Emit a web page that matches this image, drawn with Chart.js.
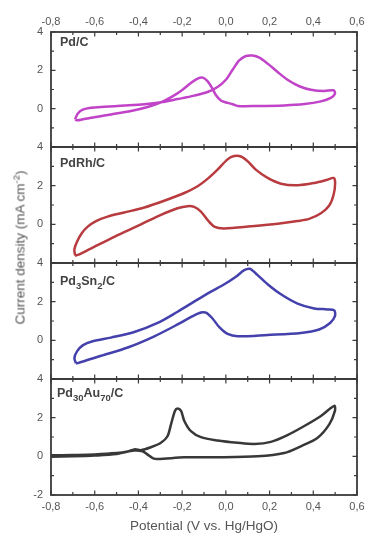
<!DOCTYPE html>
<html>
<head>
<meta charset="utf-8">
<script src="https://cdn.jsdelivr.net/npm/chart.js@4.4.1/dist/chart.umd.min.js"></script>
<style>
body { margin: 0; background: #fff; width: 365px; height: 536px; position: relative; overflow: hidden; font-family: "Liberation Sans", Arial, sans-serif; }
.panel { position: absolute; left: 0; width: 365px; }
.tag { position: absolute; left: 60px; font-weight: bold; font-size: 12.5px; line-height: 12.5px; color: #444; white-space: nowrap; }
.tag sub { font-size: 9.5px; line-height: 0; }
#ytitle { position: absolute; left: -80px; top: 240px; width: 200px; text-align: center; transform: rotate(-90deg); font-size: 13.5px; color: #555; white-space: nowrap; }
#ytitle sup { font-size: 9.5px; line-height: 0; }
</style>
</head>
<body>

<div class="panel" style="top:0;height:155px"><canvas id="c1"></canvas></div>
<div class="panel" style="top:139px;height:132px"><canvas id="c2"></canvas></div>
<div class="panel" style="top:255px;height:132px"><canvas id="c3"></canvas></div>
<div class="panel" style="top:371px;height:165px"><canvas id="c4"></canvas></div>

<div class="tag" style="top:36px">Pd/C</div>
<div class="tag" style="top:157px">PdRh/C</div>
<div class="tag" style="top:275px">Pd<sub>3</sub>Sn<sub>2</sub>/C</div>
<div class="tag" style="top:387px;left:57px">Pd<sub>30</sub>Au<sub>70</sub>/C</div>

<div id="ytitle">Current density (mA cm<sup>-2</sup>)</div>

<script>
// 🔹 TICKS
const xTicks = [-0.8, -0.6, -0.4, -0.2, 0.0, 0.2, 0.4, 0.6];
const xMinor = [-0.7, -0.5, -0.3, -0.1, 0.1, 0.3, 0.5];
const yTicksTop = [0, 2, 4];
const yTicksBottom = [-2, 0, 2, 4];
const yMinor = [-1, 1, 3];

// 🔹 Pd/C
const pdcV = [-0.690,-0.678,-0.655,-0.617,-0.556,-0.465,-0.373,-0.297,-0.221,-0.145,-0.084,-0.038,0.000,0.031,0.061,0.092,0.122,0.153,0.191,0.237,0.282,0.336,0.389,0.450,0.493,
              0.499,0.480,0.435,0.359,0.267,0.145,0.054,0.031,0.008,-0.023,-0.045,-0.064,-0.084,-0.106,-0.129,-0.160,-0.198,-0.244,-0.297,-0.358,-0.434,-0.526,-0.617,-0.678,-0.690];
const pdcJ = [-0.57,-0.26,-0.05,0.05,0.10,0.16,0.23,0.33,0.50,0.68,0.87,1.13,1.51,2.03,2.52,2.75,2.77,2.66,2.35,1.91,1.51,1.17,0.99,0.92,0.96,
              0.78,0.56,0.38,0.24,0.17,0.14,0.14,0.23,0.30,0.43,0.70,1.10,1.44,1.62,1.57,1.34,0.99,0.64,0.33,0.09,-0.12,-0.30,-0.47,-0.61,-0.57];

// 🔹 PdRh/C
const pdrhV = [-0.690,-0.693,-0.681,-0.660,-0.632,-0.594,-0.541,-0.465,-0.373,-0.282,-0.190,-0.129,-0.084,-0.038,0.008,0.038,0.069,0.099,0.137,0.191,0.252,0.328,0.404,0.465,0.493,
               0.500,0.493,0.473,0.435,0.381,0.328,0.237,0.115,-0.007,-0.053,-0.084,-0.114,-0.145,-0.175,-0.221,-0.297,-0.388,-0.495,-0.587,-0.663,-0.690];
const pdrhJ = [-1.60,-1.29,-0.90,-0.47,-0.12,0.17,0.40,0.61,0.87,1.22,1.62,1.97,2.35,2.83,3.36,3.53,3.51,3.27,2.83,2.40,2.10,2.02,2.14,2.31,2.40,
               2.14,1.53,0.97,0.57,0.28,0.17,0.03,-0.10,-0.21,-0.12,0.23,0.66,0.90,0.94,0.83,0.49,0.00,-0.56,-1.08,-1.51,-1.63];

// 🔹 Pd3Sn2/C
const pdsnV = [-0.686,-0.693,-0.681,-0.655,-0.609,-0.526,-0.419,-0.312,-0.221,-0.145,-0.068,-0.007,0.046,0.084,0.110,0.137,0.191,0.252,0.328,0.404,0.465,0.496,
               0.499,0.477,0.427,0.343,0.191,0.054,0.008,-0.030,-0.061,-0.091,-0.114,-0.152,-0.221,-0.327,-0.449,-0.571,-0.678,-0.686];
const pdsnJ = [-1.18,-0.92,-0.57,-0.26,-0.05,0.14,0.43,0.90,1.48,2.00,2.52,2.90,3.29,3.63,3.70,3.46,2.90,2.38,1.90,1.65,1.60,1.55,
               1.25,0.90,0.56,0.38,0.28,0.21,0.33,0.68,1.13,1.43,1.44,1.25,0.82,0.21,-0.37,-0.80,-1.18,-1.18];

// 🔹 Pd30Au70/C
const pdauV = [-0.80,-0.70,-0.60,-0.50,-0.45,-0.415,-0.39,-0.343,-0.297,-0.267,-0.251,-0.233,-0.221,-0.205,-0.190,-0.160,-0.114,-0.038,0.054,0.130,0.206,0.282,0.359,0.435,0.496,
               0.499,0.473,0.420,0.343,0.267,0.145,-0.038,-0.190,-0.312,-0.335,-0.358,-0.381,-0.42,-0.50,-0.60,-0.70,-0.80];
const pdauJ = [0.05,0.07,0.10,0.17,0.25,0.37,0.32,0.47,0.70,1.04,1.65,2.35,2.47,2.35,1.83,1.30,0.99,0.82,0.70,0.64,0.75,1.10,1.57,2.09,2.61,
               2.35,1.65,0.96,0.52,0.17,0.00,-0.05,-0.05,-0.14,-0.09,0.09,0.26,0.30,0.12,0.04,0.00,-0.02];

const FONT = '"Liberation Sans", Arial, sans-serif';
const LABEL_COLOR = '#555';
const FRAME_COLOR = '#3a3a3a';

// 🔥 FRAME + INWARD TICKS
const framePlugin = {
    id: 'frame',
    afterDatasetsDraw(chart) {
        const { ctx, chartArea: a, scales } = chart;
        const x = scales.x, y = scales.y;
        ctx.save();
        ctx.strokeStyle = FRAME_COLOR;
        ctx.lineWidth = 1.2;
        ctx.beginPath();
        const xMarks = xTicks.map(v => [v, 4.5]).concat(xMinor.map(v => [v, 3]));
        xMarks.forEach(([v, len]) => {
            const px = x.getPixelForValue(v);
            ctx.moveTo(px, a.top); ctx.lineTo(px, a.top + len);
            ctx.moveTo(px, a.bottom); ctx.lineTo(px, a.bottom - len);
        });
        const yMarks = yTicksBottom.map(v => [v, 4.5]).concat(yMinor.map(v => [v, 3]));
        yMarks.forEach(([v, len]) => {
            const py = y.getPixelForValue(v);
            ctx.moveTo(a.left, py); ctx.lineTo(a.left + len, py);
            ctx.moveTo(a.right, py); ctx.lineTo(a.right - len, py);
        });
        ctx.stroke();
        ctx.lineWidth = 1.8;
        ctx.strokeRect(a.left, a.top, a.right - a.left, a.bottom - a.top);
        ctx.restore();
    }
};

function fmtX(v) {
    return v.toFixed(1).replace('.', ',');
}

// 🔥 PANEL
function makePanel(id, V, J, color, cfg) {
    const pts = V.map((v, i) => ({ x: v, y: J[i] }));
    const xAxis = {
        type: 'linear',
        min: -0.8,
        max: 0.6,
        display: cfg.xPos !== null,
        position: cfg.xPos || 'bottom',
        grid: { display: false, drawTicks: false },
        border: { display: false },
        afterBuildTicks: s => { s.ticks = xTicks.map(v => ({ value: v })); },
        ticks: {
            callback: v => fmtX(v),
            color: LABEL_COLOR,
            font: { family: FONT, size: 11 },
            padding: cfg.xPad,
            autoSkip: false,
            maxRotation: 0
        },
        afterFit: s => {
            s.height = cfg.xHeight;
            s.paddingLeft = 0;
            s.paddingRight = 0;
        }
    };
    if (cfg.xTitle) {
        xAxis.title = {
            display: true,
            text: cfg.xTitle,
            color: LABEL_COLOR,
            font: { family: FONT, size: 13.5 },
            padding: { top: 0, bottom: 2 }
        };
    }
    return new Chart(document.getElementById(id), {
        type: 'scatter',
        data: {
            datasets: [{
                data: pts,
                showLine: true,
                borderColor: color,
                borderWidth: 2.5,
                pointRadius: 0,
                tension: 0.3,
                fill: false
            }]
        },
        options: {
            responsive: true,
            maintainAspectRatio: false,
            animation: false,
            layout: { padding: { top: cfg.padTop, bottom: cfg.padBottom, left: 0, right: 8 } },
            plugins: { legend: { display: false }, tooltip: { enabled: false } },
            scales: {
                x: xAxis,
                y: {
                    type: 'linear',
                    min: -2,
                    max: 4,
                    grid: { display: false, drawTicks: false },
                    border: { display: false },
                    afterBuildTicks: s => { s.ticks = cfg.yTicks.map(v => ({ value: v })); },
                    ticks: {
                        callback: v => String(v),
                        color: LABEL_COLOR,
                        font: { family: FONT, size: 11 },
                        padding: 8
                    },
                    afterFit: s => {
                        s.width = 51;
                        s.paddingTop = 0;
                        s.paddingBottom = 0;
                    }
                }
            }
        },
        plugins: [framePlugin]
    });
}

// 🔁 RUN
makePanel('c1', pdcV, pdcJ, '#c043c8', { xPos: 'top', xHeight: 32, xPad: 3, padTop: 0, padBottom: 8, yTicks: yTicksTop });
makePanel('c2', pdrhV, pdrhJ, '#b83b3f', { xPos: null, xHeight: 0, xPad: 5, padTop: 8, padBottom: 8, yTicks: yTicksTop });
makePanel('c3', pdsnV, pdsnJ, '#4441ad', { xPos: null, xHeight: 0, xPad: 5, padTop: 8, padBottom: 8, yTicks: yTicksTop });
makePanel('c4', pdauV, pdauJ, '#383838', { xPos: 'bottom', xHeight: 41, xPad: 5, padTop: 8, padBottom: 0, yTicks: yTicksBottom, xTitle: 'Potential (V vs. Hg/HgO)' });
</script>
</body>
</html>
